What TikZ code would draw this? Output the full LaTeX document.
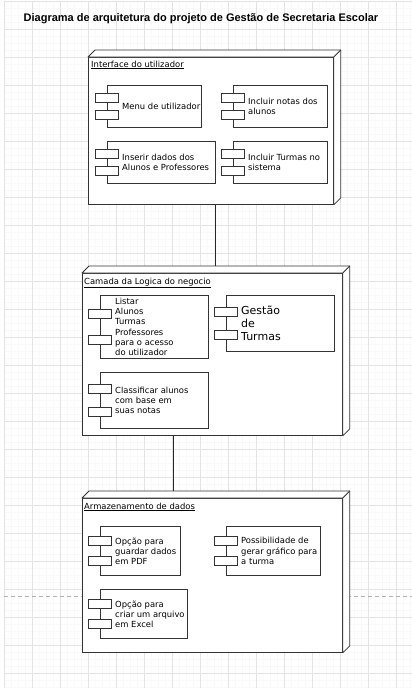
\documentclass[tikz,border=0pt]{standalone}
\usepackage{fontspec}
\setmainfont{DejaVu Sans}
\newfontfamily\titlefont{Liberation Sans}
\usetikzlibrary{positioning,calc}

\begin{document}
\begin{tikzpicture}[
    x=1pt, y=-1pt,
    layer/.style={draw=black!80, fill=white, line width=0.8pt, anchor=north west, inner sep=0pt},
    lname/.style={anchor=west, inner sep=0pt, font=\fontsize{8.4}{10.1}\selectfont},
    comp/.style={draw=black!80, fill=white, line width=0.8pt, anchor=north west, inner sep=0pt},
    ctext/.style={anchor=west, align=left, inner sep=0pt, font=\fontsize{8.4}{10.1}\selectfont},
    tab/.style={draw=black!80, fill=white, line width=0.8pt},
    link/.style={draw=black!85, line width=0.8pt}
]
\useasboundingbox[fill=white] (0,0) rectangle (412,688);
% page grid
\begin{scope}[shift={(4,1)}]
\draw[black!2.5, line width=0.3pt] (0,687) grid[step=7pt] (408,0);
\draw[black!11, line width=0.6pt] (0,687) grid[step=28pt] (408,0);
\end{scope}
\draw[black!30, dash pattern=on 4pt off 3pt, line width=0.6pt] (4,596) -- (412,596);

\node[font=\titlefont\bfseries\fontsize{11}{13}\selectfont] (title) at (201,19) {Diagrama de arquitetura do projeto de Gestão de Secretaria Escolar};

% layers
\node[layer, minimum width=245, minimum height=147] (n1) at (88,57) {};
\node[layer, minimum width=260, minimum height=162] (n2) at (82,273) {};
\node[layer, minimum width=260, minimum height=154] (n3) at (82,498) {};
\foreach \n in {n1,n2,n3}{
  \filldraw[draw=black!80, fill=white, line width=0.8pt, line join=round]
    (\n.north west) -- ++(7,-7) -- ($(\n.north east)+(7,-7)$) -- ($(\n.south east)+(7,-7)$)
    -- (\n.south east) -- (\n.north east) -- cycle;
  \draw[black!80, line width=0.8pt] (\n.north east) -- ++(7,-7);
}
\node[lname] (n1l) at ([shift={(3,8)}]n1.north west) {\underline{Interface do utilizador}};
\node[lname] (n2l) at ([shift={(2,10)}]n2.north west) {\underline{Camada da Logica do negocio}};
\node[lname] (n3l) at ([shift={(2,9)}]n3.north west) {\underline{Armazenamento de dados}};

\draw[link] ([xshift=4.5]n1.south) -- ($(n1.south |- n2.north)+(4.5,-7)$);
\draw[link] ([xshift=-39]n2.south) -- ($(n2.south |- n3.north)+(-39,-7)$);

% components
\node[comp, minimum width=94, minimum height=42] (c11) at (107,85) {};
\node[comp, minimum width=94, minimum height=42] (c12) at (233,85) {};
\node[comp, minimum width=108, minimum height=42] (c13) at (107,141) {};
\node[comp, minimum width=94, minimum height=42] (c14) at (233,141) {};
\node[comp, minimum width=108, minimum height=63] (c21) at (100,295) {};
\node[comp, minimum width=108, minimum height=56] (c22) at (226,295) {};
\node[comp, minimum width=108, minimum height=56] (c23) at (100,372) {};
\node[comp, minimum width=80, minimum height=49] (c31) at (100,526) {};
\node[comp, minimum width=94, minimum height=49] (c32) at (226,526) {};
\node[comp, minimum width=87, minimum height=49] (c33) at (100,589) {};
\foreach \c in {c11,c12,c13,c14,c21,c22,c23,c31,c32,c33}{
  \draw[tab] ($(\c.north west)!0.3!(\c.south west)+(-12,-4.25)$) rectangle ++(23,8.5);
  \draw[tab] ($(\c.north west)!0.7!(\c.south west)+(-12,-4.25)$) rectangle ++(23,8.5);
}

\node[ctext] (c11t) at ([xshift=15]c11.west) {Menu de utilizador};
\node[ctext] (c12t) at ([xshift=15]c12.west) {Incluir notas dos\\alunos};
\node[ctext] (c13t) at ([xshift=15]c13.west) {Inserir dados dos\\Alunos e Professores};
\node[ctext] (c14t) at ([xshift=15]c14.west) {Incluir Turmas no\\sistema};
\node[ctext] (c21t) at ([xshift=15]c21.west) {Listar\\Alunos\\Turmas\\Professores\\para o acesso\\do utilizador};
\node[ctext, font=\fontsize{11}{13}\selectfont] (c22t) at ([xshift=15]c22.west) {Gestão\\de\\Turmas};
\node[ctext] (c23t) at ([xshift=15]c23.west) {Classificar alunos\\com base em\\suas notas};
\node[ctext] (c31t) at ([xshift=15]c31.west) {Opção para\\guardar dados\\em PDF};
\node[ctext] (c32t) at ([xshift=15]c32.west) {Possibilidade de\\gerar gráfico para\\a turma};
\node[ctext] (c33t) at ([xshift=15]c33.west) {Opção para\\criar um arquivo\\em Excel};
\end{tikzpicture}
\end{document}
